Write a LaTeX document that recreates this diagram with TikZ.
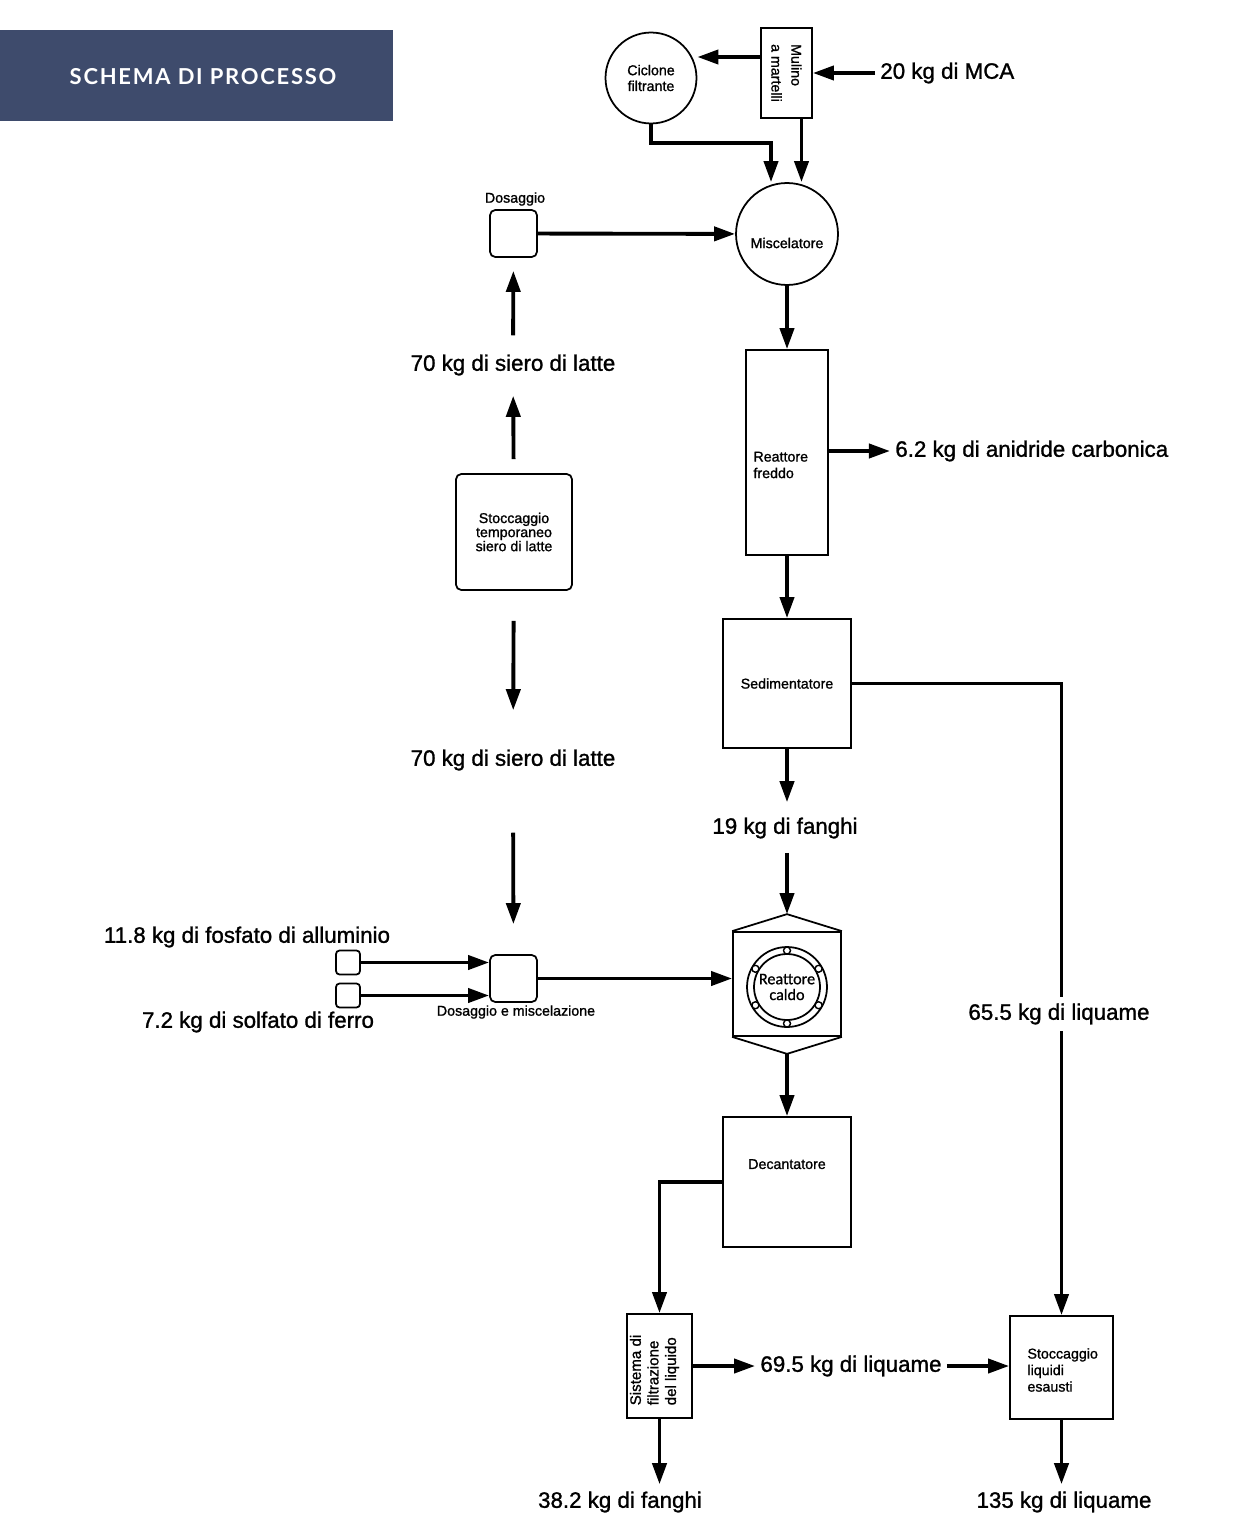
\documentclass[tikz,border=0pt]{standalone}
\usepackage{fontspec}
\setmainfont{Liberation Sans}[FakeBold=1.2]
\newfontfamily\bannerfont[LetterSpace=8]{Lato}
\newfontfamily\calfont{Carlito}[FakeBold=0.8]
\usetikzlibrary{arrows.meta,positioning,calc}
\definecolor{bannerblue}{HTML}{3E4B6C}

\begin{document}
\begin{tikzpicture}[x=0.02cm,y=-0.02cm,
	box/.style={draw,line width=1pt,inner sep=0pt},
	rbox/.style={box,rounded corners=3pt},
	arr/.style={line width=2.2pt,-{Triangle[length=12pt,width=8pt]}},
	big/.style={inner sep=0pt,font=\fontsize{12.7}{15}\selectfont},
	small/.style={inner sep=0pt,font=\fontsize{8.1}{9.4}\selectfont}]
		\useasboundingbox (0,0) rectangle (1246,1531);
		% banner
		\fill[bannerblue] (0,30) rectangle (393,121);
		\node[text=white,font=\bannerfont\bfseries\fontsize{12.5}{14}\selectfont] (ttl) at (203,77) {SCHEMA DI PROCESSO};
		% top: mill, cyclone, mixer
		\node[box,circle,minimum size=1.82cm,align=center,small,font=\fontsize{8.1}{9}\selectfont] (cic) at (651,78) {Ciclone\\filtrante};
		\node[box,minimum width=1.02cm,minimum height=1.8cm] (mul) at (786.5,73) {};
		\node[small,rotate=-90,align=left,font=\fontsize{8.1}{11.3}\selectfont] at (mul) {Mulino\\a martelli};
		\node[big,anchor=west] (mca) at (880,73) {20 kg di MCA};
		\node[box,circle,minimum size=2.04cm] (mix) at (787,234) {};
		\node[small] at ([yshift=-0.18cm]mix.center) {Miscelatore};
		\node[rbox,minimum size=0.94cm] (dos) at (513.5,233.5) {};
		\node[small] at (515,199) {Dosaggio};
		% whey line
		\node[big] (s1) at (513,365) {70 kg di siero di latte};
		\node[rbox,minimum size=2.32cm,align=center,small,font=\fontsize{8.1}{8}\selectfont] (sto) at (514,532) {Stoccaggio\\temporaneo\\siero di latte};
		\node[big] (s2) at (513,760) {70 kg di siero di latte};
		\node[rbox,minimum size=0.94cm] (dm) at (513.5,978.5) {};
		\node[small] at (516,1012) {Dosaggio e miscelazione};
		\foreach \n/\y in {1/962.5,2/995.5}
		\node[rbox,rounded corners=2pt,minimum size=0.48cm] (a\n) at (348,\y) {};
		\node[big] (l1) at (247,937) {11.8 kg di fosfato di alluminio};
		\node[big] (l2) at (258,1022) {7.2 kg di solfato di ferro};
		% main column
		\node[box,minimum width=1.64cm,minimum height=4.1cm] (rf) at (787,452.5) {};
		\node[small,align=left,anchor=west] at ([xshift=0.16cm,yshift=-0.25cm]rf.west) {Reattore\\freddo};
		\node[big,anchor=west] (co2) at (895,451) {6.2 kg di anidride carbonica};
		\node[box,minimum width=2.56cm,minimum height=2.58cm,small] (sed) at (787,683.5) {Sedimentatore};
		\node[big] (f19) at (785,828) {19 kg di fanghi};
		\node[box,minimum width=2.16cm,minimum height=2.08cm] (rc) at (787,984) {};
		\coordinate (rct) at ($(rc.north)+(0,-17)$);
		\coordinate (rcb) at ($(rc.south)+(0,17)$);
		\draw[line width=1pt] (rc.north west) -- (rct) -- (rc.north east);
		\draw[line width=1pt] (rc.south west) -- (rcb) -- (rc.south east);
		\draw[line width=1pt] ($(rc.center)+(0,3)$) circle (0.8cm) circle (0.66cm);
		\foreach \a in {30,90,...,330}
		\draw[line width=0.8pt,fill=white] ($(rc.center)+(0,3)+(\a:0.73cm)$) circle (0.07cm);
		\node[inner sep=0pt,align=center,font=\calfont\fontsize{9.2}{9}\selectfont] at ($(rc.center)+(0,3)$) {Reattore\\caldo};
		\node[box,minimum width=2.56cm,minimum height=2.6cm,label={[small,anchor=center,yshift=-0.96cm]north:Decantatore}] (dec) at (787,1182) {};
		\node[box,minimum width=1.3cm,minimum height=2.08cm] (fil) at (659.5,1366) {};
		\node[small,rotate=90,align=left,font=\fontsize{8.6}{10}\selectfont] at ([xshift=-0.1cm,yshift=-0.08cm]fil.center) {Sistema di\\filtrazione\\del liquido};
		\node[big] (l695) at (851,1366) {69.5 kg di liquame};
		\node[box,minimum size=2.06cm] (sle) at (1061.5,1367.5) {};
		\node[small,align=left,anchor=west] at ([xshift=0.36cm,yshift=-0.05cm]sle.west) {Stoccaggio\\liquidi\\esausti};
		\node[big] (f38) at (620,1502) {38.2 kg di fanghi};
		\node[big] (l135) at (1064,1502) {135 kg di liquame};
		% connectors
		\draw[arr] ([yshift=0.32cm]mul.west) -- ([yshift=0.32cm]mul.west -| cic.east);
		\draw[arr,shorten <=0.1cm] (mca.west) -- (mul.east);
		\draw[arr] (cic.south) -- ++(0,19) -| ([xshift=-0.32cm]mix.north);
		\draw[arr] ([xshift=0.3cm]mul.south) -- ([xshift=0.3cm]mul.south |- mix.north);
		\draw[arr] (dos) -- (mix);
		\draw[arr,shorten <=0.38cm,shorten >=0.26cm] (s1) -- (dos);
		\draw[arr,shorten <=0.28cm,shorten >=0.4cm] (sto) -- (s1);
		\draw[arr,shorten <=0.6cm,shorten >=0.78cm] (sto) -- (s2);
		\draw[arr,shorten <=1.24cm,shorten >=0.6cm] (s2) -- (dm);
		\foreach \n in {1,2}
		\draw[arr] (a\n.east) -- (a\n.east -| dm.west);
		\draw[arr] (dm.east) -- (dm.east -| rc.west);
		\draw[arr] (mix) -- (rf);
		\draw[arr,shorten >=0.1cm] (rf.east |- co2.west) -- (co2.west);
		\draw[arr] (rf) -- (sed);
		\draw[arr,shorten >=0.3cm] (sed.south) -- (sed.south |- f19.north);
		\draw[arr,shorten <=0.28cm] (f19.south -| rct) -- (rct);
		\draw[arr] (rcb) -- (dec.north);
		\draw[arr] (sed.east) -| (sle.north);
		\node[big,fill=white,inner ysep=4pt] (l655) at (1059,1014) {65.5 kg di liquame};
		\draw[arr] (dec.west) -| (fil.north);
		\draw[arr,shorten >=0.1cm] (fil.east) -- (l695.west);
		\draw[arr,shorten <=0.1cm] (l695.east) -- (l695.east -| sle.west);
		\draw[arr,shorten >=0.14cm] (fil.south) -- (fil.south |- f38.north);
		\draw[arr,shorten >=0.14cm] (sle.south) -- (sle.south |- l135.north);
\end{tikzpicture}
\end{document}
